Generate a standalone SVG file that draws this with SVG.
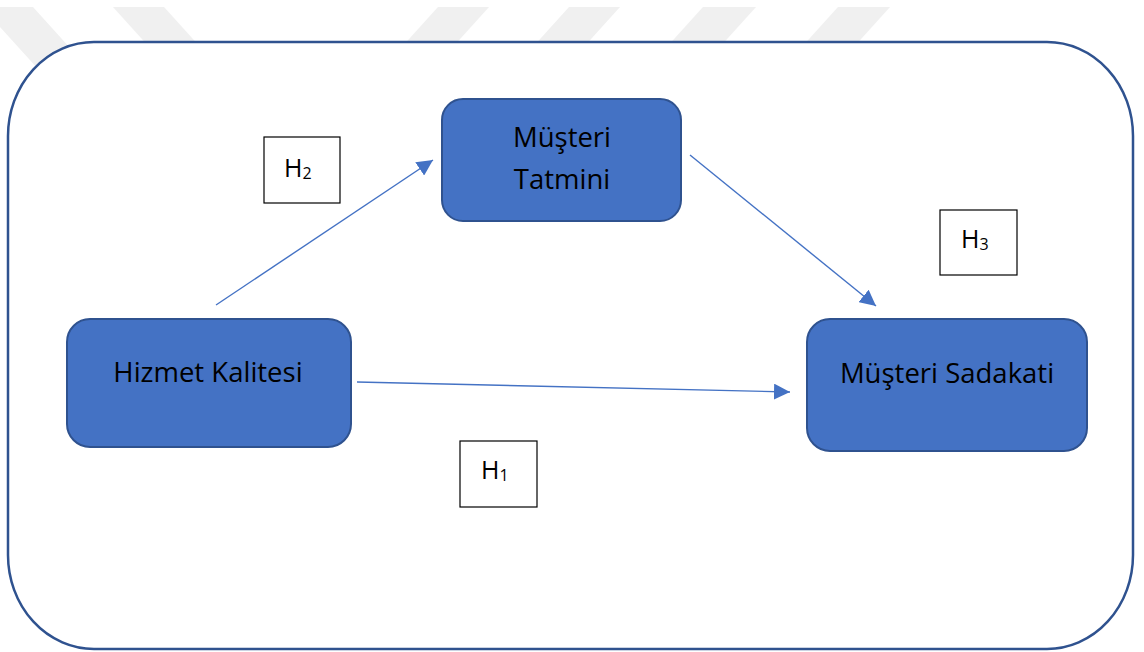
<svg xmlns="http://www.w3.org/2000/svg" width="1144" height="652" viewBox="0 0 1144 652">
  <defs>
    <style>
      .stripe { fill: #f0f0f0; }
      .frame { fill: #ffffff; stroke: #2F528F; stroke-width: 2.5; }
      .node rect { fill: #4472C4; stroke: #2F528F; stroke-width: 2; }
      .node text { font-family: "Open Sans", "Liberation Sans", sans-serif; font-size: 27.5px; fill: #000000; text-anchor: middle; }
      .hyp rect { fill: #ffffff; stroke: #000000; stroke-width: 1.2; }
      .hyp text { font-family: "Open Sans", "Liberation Sans", sans-serif; font-size: 25px; fill: #000000; }
      .hyp tspan.sub { font-size: 16px; }
      .edge { stroke: #4472C4; stroke-width: 1.4; fill: none; marker-end: url(#arrow); }
    </style>
    <marker id="arrow" markerUnits="userSpaceOnUse" markerWidth="16" markerHeight="16" refX="16" refY="8" orient="auto">
      <path d="M0,0 L16,8 L0,16 Z" fill="#4472C4"/>
    </marker>
  </defs>

  <rect width="1144" height="652" fill="#ffffff"/>

  <!-- background stripes along the top edge -->
  <g id="stripes">
    <polygon class="stripe" points="-18,7 33,7 99,80 48,80"/>
    <polygon class="stripe" points="113,7 164,7 230,80 179,80"/>
    <polygon class="stripe" points="438,7 489,7 423,80 372,80"/>
    <polygon class="stripe" points="569,7 620,7 554,80 503,80"/>
    <polygon class="stripe" points="703,7 756,7 690,80 637,80"/>
    <polygon class="stripe" points="838,7 890,7 824,80 772,80"/>
  </g>

  <!-- outer frame -->
  <g id="frame">
    <path class="frame" d="M94,42 H1047 A86,94 0 0 1 1133,136 V555 A86,94 0 0 1 1047,649 H94 A86,94 0 0 1 8,555 V136 A86,94 0 0 1 94,42 Z"/>
  </g>

  <!-- connectors -->
  <g id="connectors">
    <line class="edge" x1="216" y1="305" x2="433" y2="160"/>
    <line class="edge" x1="690" y1="155" x2="876" y2="306"/>
    <line class="edge" x1="357" y1="382" x2="790" y2="392"/>
  </g>

  <!-- nodes -->
  <g id="node-musteri-tatmini" class="node">
    <rect x="442" y="99" width="239" height="122" rx="21" ry="21"/>
    <text x="562" y="147">Müşteri</text>
    <text x="562" y="189">Tatmini</text>
  </g>

  <g id="node-hizmet-kalitesi" class="node">
    <rect x="67" y="319" width="284" height="128" rx="23" ry="23"/>
    <text x="208" y="382">Hizmet Kalitesi</text>
  </g>

  <g id="node-musteri-sadakati" class="node">
    <rect x="807" y="319" width="280" height="132" rx="23" ry="23"/>
    <text x="947" y="383">Müşteri Sadakati</text>
  </g>

  <!-- hypothesis labels -->
  <g id="label-h2" class="hyp">
    <rect x="264" y="137" width="76" height="66"/>
    <text x="284" y="177">H<tspan class="sub" dy="2">2</tspan></text>
  </g>

  <g id="label-h3" class="hyp">
    <rect x="940" y="210" width="77" height="65"/>
    <text x="961" y="248">H<tspan class="sub" dy="2">3</tspan></text>
  </g>

  <g id="label-h1" class="hyp">
    <rect x="460" y="441" width="77" height="66"/>
    <text x="481" y="479">H<tspan class="sub" dy="2">1</tspan></text>
  </g>
</svg>
